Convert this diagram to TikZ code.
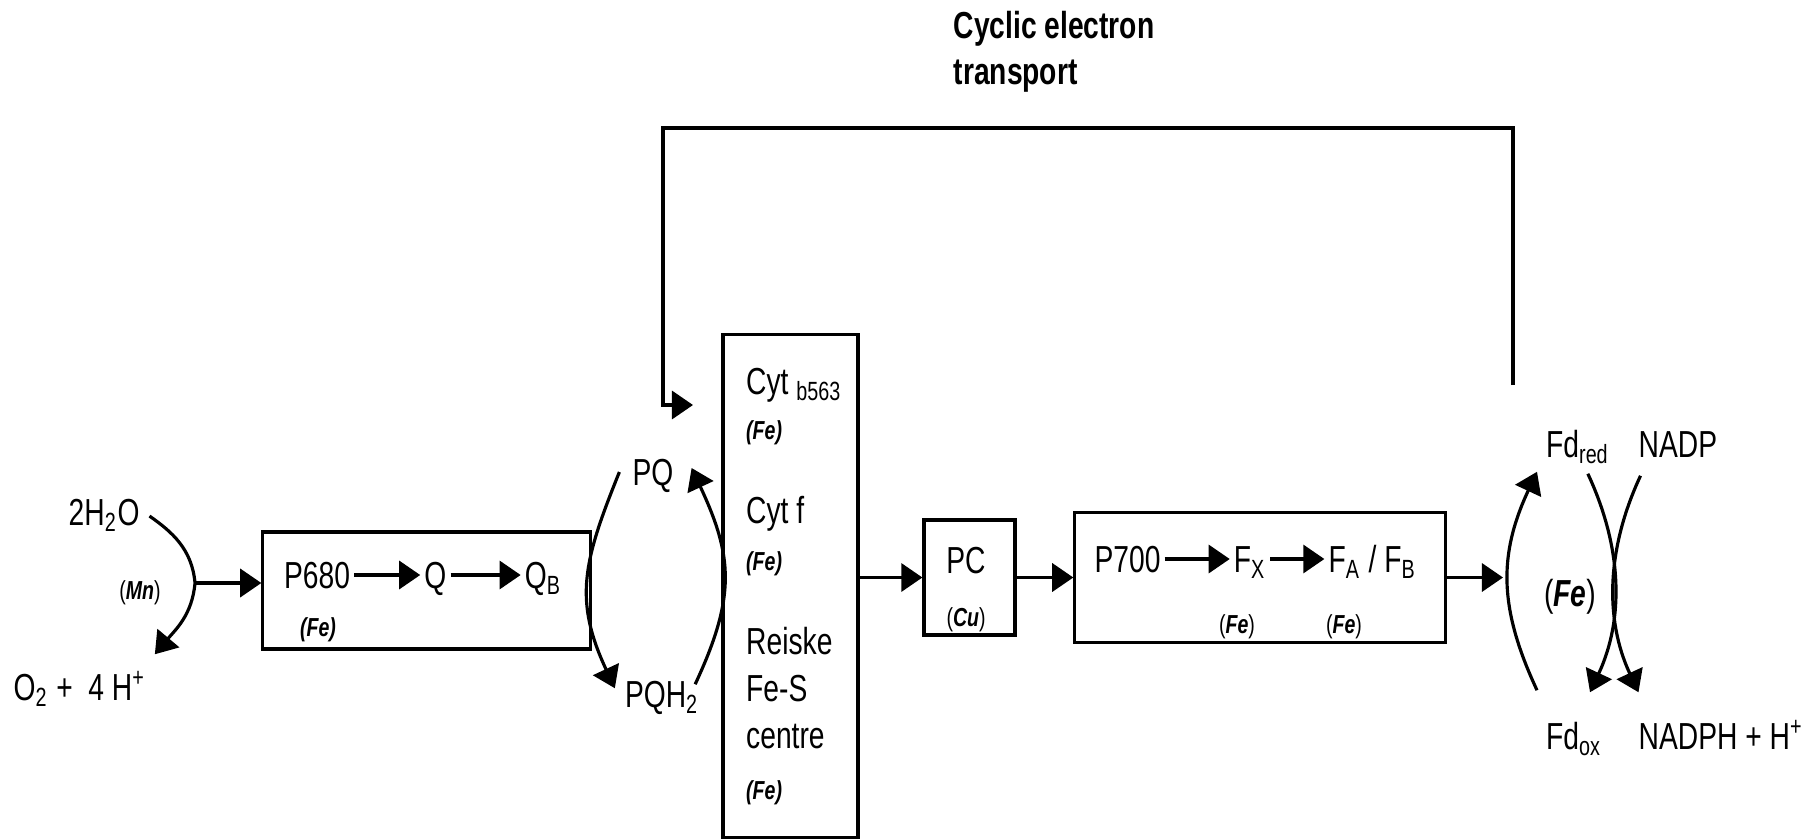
\documentclass[tikz,border=0pt]{standalone}
\usepackage{fontspec}
\setmainfont{Liberation Sans}[FakeStretch=0.75]
\usetikzlibrary{arrows.meta,positioning}
\newcommand{\chemsize}{\fontsize{10.7}{13}\selectfont}
\newcommand{\metalsize}{\fontsize{7.4}{9}\selectfont}
\newcommand{\metal}[1]{(\textbf{\textit{#1}})}
\tikzset{
    box/.style={rectangle, draw, line width=0.9pt, inner sep=0pt},
    chem/.style={inner sep=1pt, text height=7.7pt, text depth=0pt, font=\chemsize},
    metalnote/.style={inner sep=1pt, font=\metalsize},
    flow/.style={-{Triangle[length=6pt, width=8pt]}, line width=0.9pt},
}

\begin{document}
\begin{tikzpicture}[x=0.01cm, y=0.01cm]
    \useasboundingbox (0,0) rectangle (1812,-839);

    \node[anchor=north west, align=left, inner sep=0pt, font=\chemsize\bfseries] (cyclic) at (953,-11) {Cyclic electron\\transport};

    \node[chem, anchor=west] (h2o) at (64.5,-512) {2H\textsubscript{2}O};
    \node[chem, anchor=west] (o2) at (9.5,-687) {O\textsubscript{2} + \ 4 H\textsuperscript{+}};
    \node[metalnote] (mn) at (140,-593) {\metal{Mn}};
    \coordinate (wsplit) at (195,-583);

    \node[box, minimum width=3.27cm, minimum height=1.17cm] (psii) at (426.5,-590.5) {};
    \node[chem] (p680) at (317,-575) {P680};
    \node[chem, right=0.66cm of p680] (q) {Q};
    \node[chem, right=0.7cm of q] (qb) {Q\textsubscript{B}};
    \node[metalnote] (fepsii) at (318,-630) {\textbf{\textit{(Fe)}}};

    \node[chem] (pq) at (653,-472) {PQ};
    \node[chem] (pqh) at (662,-694) {PQH\textsubscript{2}};

    \node[box, minimum width=1.35cm, minimum height=5.02cm] (cyt) at (790.5,-586) {};
    \node[chem, anchor=west] (cytb) at (742,-381) {Cyt \textsubscript{b563}};
    \node[metalnote, anchor=west] (fecytb) at (742,-433) {\textbf{\textit{(Fe)}}};
    \node[chem, anchor=west] (cytf) at (742,-510) {Cyt f};
    \node[metalnote, anchor=west] (fecytf) at (742,-564) {\textbf{\textit{(Fe)}}};
    \node[chem, anchor=west] (reiske) at (742,-641) {Reiske};
    \node[chem, anchor=west] (fes) at (742,-688) {Fe-S};
    \node[chem, anchor=west] (centre) at (742,-735) {centre};
    \node[metalnote, anchor=west] (fecentre) at (742,-793) {\textbf{\textit{(Fe)}}};

    \node[box, minimum width=0.91cm, minimum height=1.15cm] (pc) at (969.5,-577.5) {};
    \node[chem] (pctext) at (966,-560) {PC};
    \node[metalnote] (cu) at (966,-620) {\metal{Cu}};

    \node[box, minimum width=3.70cm, minimum height=1.30cm] (psi) at (1260,-577.5) {};
    \node[chem] (p700) at (1127.5,-559) {P700};
    \node[chem, right=0.65cm of p700] (fx) {F\textsubscript{X}};
    \node[chem, right=0.54cm of fx] (fab) {F\textsubscript{A} / F\textsubscript{B}};
    \node[metalnote] (fefx) at (1237,-627) {\metal{Fe}};
    \node[metalnote] (fefab) at (1344,-627) {\metal{Fe}};

    \coordinate (fdsplit) at (1503,-577.5);
    \node[chem, anchor=west] (fdred) at (1542,-444) {Fd\textsubscript{red}};
    \node[chem, anchor=west] (nadp) at (1634.5,-444) {NADP};
    \node[chem, anchor=west] (fdox) at (1542,-736) {Fd\textsubscript{ox}};
    \node[chem, anchor=west] (nadph) at (1634.5,-736) {NADPH + H\textsuperscript{+}};
    \node[chem] (fefd) at (1570,-593) {\metal{Fe}};

    \coordinate (cycstart) at (1513,-385);
    \coordinate (cyctop) at (663,-128);
    \coordinate (cycend) at (693,-405);

    \draw[flow, shorten <=2pt] (h2o.east) to[out=-35, in=95] (wsplit) to[out=-95, in=50] ([shift={(5,15)}]o2.north east);
    \draw[flow] (wsplit) -- (wsplit -| psii.west);
    \draw[flow] (p680) -- (q);
    \draw[flow] (q) -- (qb);
    \draw[flow] ([shift={(-9,0)}]pq.west) to[out=-112, in=115, looseness=1.15] ([shift={(-6,-12)}]pqh.north west);
    \draw[flow] ([shift={(-8,-8)}]pqh.north east) to[out=65, in=-65, looseness=1.15] ([shift={(14,4)}]pq.east);
    \draw[flow] (cyt.east |- pc.west) -- (pc.west);
    \draw[flow] (pc) -- (psi);
    \draw[flow] (p700) -- (fx);
    \draw[flow] (fx) -- (fab);
    \draw[flow] (psi.east) -- (fdsplit);
    \draw[flow] ([shift={(-5,28)}]fdox.north west) to[out=115, in=-115, looseness=1.07] ([shift={(-5,-10)}]fdred.south west);
    \draw[flow] ([shift={(10,-12)}]fdred.south) to[out=-65, in=65, looseness=0.95] ([shift={(16,26)}]fdox.north);
    \draw[flow] ([shift={(6,-14)}]nadp.south west) to[out=-115, in=115, looseness=0.95] ([shift={(4,26)}]nadph.north west);
    \draw[flow] (cycstart) |- (cyctop) |- (cycend);
\end{tikzpicture}
\end{document}
